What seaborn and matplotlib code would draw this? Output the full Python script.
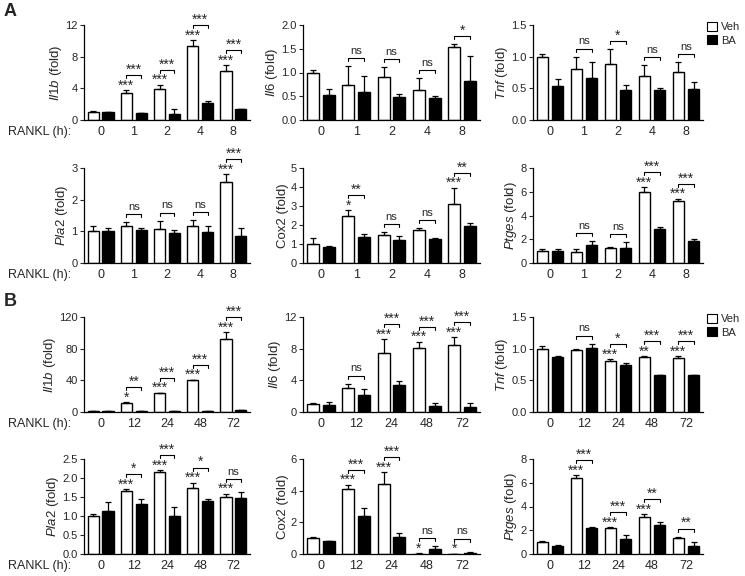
import numpy as np
import pandas as pd
import matplotlib
matplotlib.use('Agg')
import matplotlib.pyplot as plt
from matplotlib.patches import Patch
import seaborn as sns

sns.set_style('ticks')
plt.rcParams['font.family'] = ['Liberation Sans', 'DejaVu Sans']
plt.rcParams['mathtext.fontset'] = 'custom'
plt.rcParams['mathtext.rm'] = 'Liberation Sans'
plt.rcParams['mathtext.it'] = 'Liberation Sans:italic'

times_a = ['0', '1', '2', '4', '8']
times_b = ['0', '12', '24', '48', '72']
groups = ['Veh', 'BA']

# ---- panel A (early RANKL time points) ----
a_il1b_veh = [1.0, 3.4, 3.9, 9.3, 6.2]
a_il1b_veh_err = [0.1, 0.35, 0.55, 0.8, 0.75]
a_il1b_ba = [0.95, 0.85, 0.75, 2.1, 1.35]
a_il1b_ba_err = [0.05, 0.08, 0.6, 0.3, 0.1]
a_il1b_veh_sig = ['', '***', '***', '***', '***']
a_il1b_pair_sig = ['', '***', '***', '***', '***']

a_il6_veh = [1.0, 0.74, 0.9, 0.63, 1.53]
a_il6_veh_err = [0.05, 0.4, 0.22, 0.25, 0.07]
a_il6_ba = [0.52, 0.58, 0.48, 0.47, 0.83]
a_il6_ba_err = [0.13, 0.35, 0.07, 0.03, 0.52]
a_il6_veh_sig = ['', '', '', '', '']
a_il6_pair_sig = ['', 'ns', 'ns', 'ns', '*']

a_tnf_veh = [1.0, 0.80, 0.89, 0.69, 0.76]
a_tnf_veh_err = [0.05, 0.2, 0.23, 0.18, 0.15]
a_tnf_ba = [0.53, 0.67, 0.48, 0.47, 0.49]
a_tnf_ba_err = [0.12, 0.25, 0.07, 0.03, 0.11]
a_tnf_veh_sig = ['', '', '', '', '']
a_tnf_pair_sig = ['', 'ns', '*', 'ns', 'ns']

a_pla2_veh = [1.0, 1.17, 1.08, 1.16, 2.55]
a_pla2_veh_err = [0.17, 0.12, 0.26, 0.2, 0.25]
a_pla2_ba = [1.0, 1.05, 0.95, 0.97, 0.86]
a_pla2_ba_err = [0.1, 0.07, 0.08, 0.2, 0.25]
a_pla2_veh_sig = ['', '', '', '', '***']
a_pla2_pair_sig = ['', 'ns', 'ns', 'ns', '***']

a_cox2_veh = [1.0, 2.45, 1.46, 1.75, 3.1]
a_cox2_veh_err = [0.3, 0.32, 0.17, 0.07, 0.85]
a_cox2_ba = [0.84, 1.38, 1.2, 1.25, 1.93]
a_cox2_ba_err = [0.03, 0.13, 0.23, 0.08, 0.2]
a_cox2_veh_sig = ['', '*', '', '', '***']
a_cox2_pair_sig = ['', '**', 'ns', 'ns', '**']

a_ptges_veh = [1.0, 0.95, 1.23, 6.0, 5.2]
a_ptges_veh_err = [0.22, 0.22, 0.12, 0.38, 0.2]
a_ptges_ba = [1.0, 1.5, 1.29, 2.9, 1.82]
a_ptges_ba_err = [0.2, 0.32, 0.44, 0.12, 0.18]
a_ptges_veh_sig = ['', '', '', '***', '***']
a_ptges_pair_sig = ['', 'ns', 'ns', '***', '***']

# ---- panel B (late RANKL time points) ----
b_il1b_veh = [1.0, 11.0, 23.7, 40.0, 92.8]
b_il1b_veh_err = [0.2, 1.2, 0.5, 0.8, 8.0]
b_il1b_ba = [1.2, 0.8, 1.0, 1.2, 2.5]
b_il1b_ba_err = [0.3, 0.2, 0.2, 0.2, 0.5]
b_il1b_veh_sig = ['', '*', '***', '***', '***']
b_il1b_pair_sig = ['', '**', '***', '***', '***']

b_il6_veh = [1.0, 3.0, 7.45, 8.08, 8.5]
b_il6_veh_err = [0.14, 0.6, 1.75, 0.8, 0.95]
b_il6_ba = [0.93, 2.2, 3.45, 0.8, 0.67]
b_il6_ba_err = [0.28, 0.75, 0.5, 0.4, 0.43]
b_il6_veh_sig = ['', '', '***', '***', '***']
b_il6_pair_sig = ['', 'ns', '***', '***', '***']

b_tnf_veh = [1.0, 0.98, 0.81, 0.87, 0.86]
b_tnf_veh_err = [0.05, 0.01, 0.02, 0.01, 0.02]
b_tnf_ba = [0.87, 1.01, 0.74, 0.58, 0.58]
b_tnf_ba_err = [0.01, 0.07, 0.04, 0.01, 0.01]
b_tnf_veh_sig = ['', '', '***', '**', '***']
b_tnf_pair_sig = ['', 'ns', '*', '***', '***']

b_pla2_veh = [1.0, 1.67, 2.17, 1.74, 1.5]
b_pla2_veh_err = [0.04, 0.03, 0.03, 0.14, 0.08]
b_pla2_ba = [1.12, 1.32, 1.0, 1.39, 1.47]
b_pla2_ba_err = [0.24, 0.12, 0.25, 0.05, 0.15]
b_pla2_veh_sig = ['', '***', '***', '***', '***']
b_pla2_pair_sig = ['', '*', '***', '*', 'ns']

b_cox2_veh = [1.0, 4.12, 4.41, 0.03, 0.02]
b_cox2_veh_err = [0.05, 0.25, 0.75, 0.01, 0.01]
b_cox2_ba = [0.82, 2.4, 1.09, 0.31, 0.08]
b_cox2_ba_err = [0.02, 0.48, 0.25, 0.21, 0.04]
b_cox2_veh_sig = ['', '***', '***', '*', '*']
b_cox2_pair_sig = ['', '***', '***', 'ns', 'ns']

b_ptges_veh = [1.02, 6.4, 2.15, 3.09, 1.35]
b_ptges_veh_err = [0.04, 0.22, 0.1, 0.28, 0.11]
b_ptges_ba = [0.66, 2.18, 1.24, 2.48, 0.69]
b_ptges_ba_err = [0.14, 0.08, 0.36, 0.22, 0.36]
b_ptges_veh_sig = ['', '***', '***', '***', '']
b_ptges_pair_sig = ['', '***', '***', '**', '**']

W, H = 745, 576
AX_H = 95
col_left = [84, 303, 533]
col_width = [166, 177, 170]
row_top = [25, 168, 317, 459]


def draw_panel(ax, times, veh, veh_err, ba, ba_err, veh_sig, pair_sig,
               ymax, yticks, yticklabels, ylabel):
    df = pd.DataFrame({'time': times * 2,
                       'group': ['Veh'] * len(times) + ['BA'] * len(times),
                       'val': veh + ba})
    sns.barplot(data=df, x='time', y='val', hue='group', order=times,
                hue_order=groups, palette={'Veh': 'white', 'BA': 'black'},
                edgecolor='black', linewidth=1.0, width=0.9, gap=0.25,
                errorbar=None, legend=False, ax=ax)

    xs = []
    for cont, err in zip(ax.containers, [veh_err, ba_err]):
        x = [b.get_x() + b.get_width() / 2 for b in cont]
        h = [b.get_height() for b in cont]
        ax.errorbar(x, h, yerr=[np.zeros(len(err)), err], fmt='none',
                    ecolor='black', elinewidth=0.9, capsize=2.5, capthick=0.9)
        xs.append(x)

    ax.set_ylim(0, ymax)
    ax.set_xlim(-0.5, 4.5)
    ax.set_yticks(yticks)
    ax.set_yticklabels(yticklabels)
    ax.set_xlabel('')
    ax.set_ylabel(ylabel, fontsize=9.5, labelpad=1)
    ax.tick_params(axis='y', length=3, width=0.8, labelsize=8, pad=1.5)
    ax.tick_params(axis='x', length=0, labelsize=9, pad=4)
    sns.despine(ax=ax)
    for s in ['left', 'bottom']:
        ax.spines[s].set_linewidth(0.9)
        ax.spines[s].set_color('black')

    px = ymax / AX_H  # data units per pixel
    for i in range(len(times)):
        xv, xb = xs[0][i], xs[1][i]
        tv = veh[i] + veh_err[i]
        tb = ba[i] + ba_err[i]
        if veh_sig[i]:
            ax.annotate(veh_sig[i], (xv, tv), xytext=(0, 0.5),
                        textcoords='offset points', ha='center',
                        va='baseline', fontsize=10)
        if pair_sig[i]:
            y = max(tv + (15 if veh_sig[i] else 8) * px, tb + 8 * px)
            ax.plot([xv, xv, xb, xb], [y - 3 * px, y, y, y - 3 * px],
                    color='black', lw=0.8, clip_on=False)
            is_ns = pair_sig[i] == 'ns'
            ax.annotate(pair_sig[i], ((xv + xb) / 2, y),
                        xytext=(0, 3 if is_ns else 1),
                        textcoords='offset points', ha='center',
                        va='baseline', fontsize=8 if is_ns else 10,
                        annotation_clip=False)


fig = plt.figure(figsize=(W / 100, H / 100), dpi=100)
axes = []
for r in range(4):
    row = []
    for c in range(3):
        ax = fig.add_axes([col_left[c] / W, 1 - (row_top[r] + AX_H) / H,
                           col_width[c] / W, AX_H / H])
        row.append(ax)
    axes.append(row)

t5 = ['0.0', '0.5', '1.0', '1.5', '2.0']
t15 = ['0.0', '0.5', '1.0', '1.5']

draw_panel(axes[0][0], times_a, a_il1b_veh, a_il1b_veh_err, a_il1b_ba, a_il1b_ba_err,
           a_il1b_veh_sig, a_il1b_pair_sig, 12, [0, 4, 8, 12], ['0', '4', '8', '12'],
           r'$\mathit{Il1b}$ (fold)')
draw_panel(axes[0][1], times_a, a_il6_veh, a_il6_veh_err, a_il6_ba, a_il6_ba_err,
           a_il6_veh_sig, a_il6_pair_sig, 2.0, [0, 0.5, 1, 1.5, 2], t5,
           r'$\mathit{Il6}$ (fold)')
draw_panel(axes[0][2], times_a, a_tnf_veh, a_tnf_veh_err, a_tnf_ba, a_tnf_ba_err,
           a_tnf_veh_sig, a_tnf_pair_sig, 1.5, [0, 0.5, 1, 1.5], t15,
           r'$\mathit{Tnf}$ (fold)')
draw_panel(axes[1][0], times_a, a_pla2_veh, a_pla2_veh_err, a_pla2_ba, a_pla2_ba_err,
           a_pla2_veh_sig, a_pla2_pair_sig, 3, [0, 1, 2, 3], ['0', '1', '2', '3'],
           r'$\mathit{Pla2}$ (fold)')
draw_panel(axes[1][1], times_a, a_cox2_veh, a_cox2_veh_err, a_cox2_ba, a_cox2_ba_err,
           a_cox2_veh_sig, a_cox2_pair_sig, 5, [0, 1, 2, 3, 4, 5],
           ['0', '1', '2', '3', '4', '5'], 'Cox2 (fold)')
draw_panel(axes[1][2], times_a, a_ptges_veh, a_ptges_veh_err, a_ptges_ba, a_ptges_ba_err,
           a_ptges_veh_sig, a_ptges_pair_sig, 8, [0, 2, 4, 6, 8],
           ['0', '2', '4', '6', '8'], r'$\mathit{Ptges}$ (fold)')

draw_panel(axes[2][0], times_b, b_il1b_veh, b_il1b_veh_err, b_il1b_ba, b_il1b_ba_err,
           b_il1b_veh_sig, b_il1b_pair_sig, 120, [0, 40, 80, 120],
           ['0', '40', '80', '120'], r'$\mathit{Il1b}$ (fold)')
draw_panel(axes[2][1], times_b, b_il6_veh, b_il6_veh_err, b_il6_ba, b_il6_ba_err,
           b_il6_veh_sig, b_il6_pair_sig, 12, [0, 4, 8, 12], ['0', '4', '8', '12'],
           r'$\mathit{Il6}$ (fold)')
draw_panel(axes[2][2], times_b, b_tnf_veh, b_tnf_veh_err, b_tnf_ba, b_tnf_ba_err,
           b_tnf_veh_sig, b_tnf_pair_sig, 1.5, [0, 0.5, 1, 1.5], t15,
           r'$\mathit{Tnf}$ (fold)')
draw_panel(axes[3][0], times_b, b_pla2_veh, b_pla2_veh_err, b_pla2_ba, b_pla2_ba_err,
           b_pla2_veh_sig, b_pla2_pair_sig, 2.5, [0, 0.5, 1, 1.5, 2, 2.5],
           ['0.0', '0.5', '1.0', '1.5', '2.0', '2.5'], r'$\mathit{Pla2}$ (fold)')
draw_panel(axes[3][1], times_b, b_cox2_veh, b_cox2_veh_err, b_cox2_ba, b_cox2_ba_err,
           b_cox2_veh_sig, b_cox2_pair_sig, 6, [0, 2, 4, 6], ['0', '2', '4', '6'],
           'Cox2 (fold)')
draw_panel(axes[3][2], times_b, b_ptges_veh, b_ptges_veh_err, b_ptges_ba, b_ptges_ba_err,
           b_ptges_veh_sig, b_ptges_pair_sig, 8, [0, 2, 4, 6, 8],
           ['0', '2', '4', '6', '8'], r'$\mathit{Ptges}$ (fold)')

# RANKL (h): row labels next to the first column's tick labels
for r in range(4):
    axes[r][0].annotate('RANKL (h):', xy=(0, 0), xycoords='axes fraction',
                        xytext=(-9, -4), textcoords='offset points',
                        ha='right', va='top', fontsize=9)

# legends, to the right of the Tnf panels
handles = [Patch(facecolor='white', edgecolor='black', linewidth=0.8),
           Patch(facecolor='black', edgecolor='black', linewidth=0.8)]
for top in [22, 314]:
    fig.legend(handles, groups, loc='upper left',
               bbox_to_anchor=(707 / W, 1 - top / H), frameon=False,
               fontsize=8, handlelength=0.9, handleheight=0.9,
               handletextpad=0.4, labelspacing=0.25, borderpad=0,
               borderaxespad=0)

fig.text(4 / W, 1 - 3 / H, 'A', fontsize=13, fontweight='bold', va='top')
fig.text(4 / W, 1 - 293 / H, 'B', fontsize=13, fontweight='bold', va='top')

fig.savefig('out.png', dpi=100)
